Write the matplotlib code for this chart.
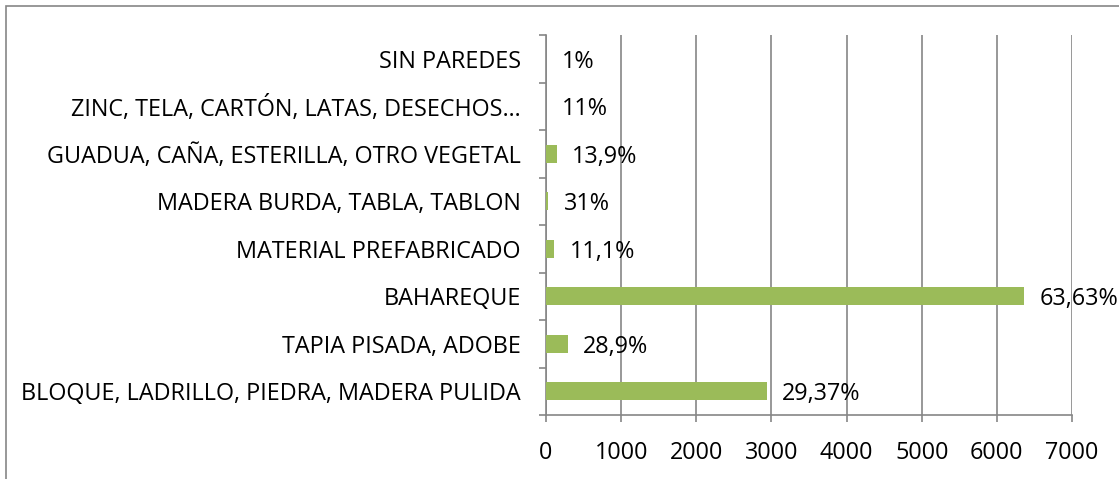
import matplotlib
matplotlib.use("Agg")
import matplotlib.pyplot as plt
from matplotlib.patches import Rectangle

plt.rcParams["font.family"] = ["Open Sans", "DejaVu Sans"]

# bottom to top
categories = [
    "BLOQUE, LADRILLO, PIEDRA, MADERA PULIDA",
    "TAPIA PISADA, ADOBE",
    "BAHAREQUE",
    "MATERIAL PREFABRICADO",
    "MADERA BURDA, TABLA, TABLON",
    "GUADUA, CAÑA, ESTERILLA, OTRO VEGETAL",
    "ZINC, TELA, CARTÓN, LATAS, DESECHOS…",
    "SIN PAREDES",
]
values = [2940, 290, 6365, 110, 30, 145, 4, 2]
pct_labels = ["29,37%", "28,9%", "63,63%", "11,1%", "31%", "13,9%", "11%", "1%"]
x_ticks = [0, 1000, 2000, 3000, 4000, 5000, 6000, 7000]

GREEN = "#9BBB59"
GRAY = "#868686"
FS = 16.8

fig = plt.figure(figsize=(11.19, 4.79), dpi=100)
ax = fig.add_axes([546 / 1119, 1 - 415 / 479, (1072 - 546) / 1119, (415 - 35) / 479])

ypos = list(range(len(categories)))
ax.barh(ypos, values, height=0.38, color=GREEN, zorder=3)

for y, v, lab in zip(ypos, values, pct_labels):
    ax.annotate(lab, (v, y), xytext=(11, -2), textcoords="offset points",
                va="center", ha="left", fontsize=FS, color="black")

ax.set_xlim(0, 7000)
ax.set_ylim(-0.5, len(categories) - 0.5)
ax.set_xticks(x_ticks)
ax.set_xticklabels([str(t) for t in x_ticks], fontsize=FS)
ax.set_yticks(ypos)
ax.set_yticklabels(categories, fontsize=FS)
ax.set_yticks([i - 0.5 for i in range(len(categories) + 1)], minor=True)

ax.tick_params(axis="y", which="major", length=0, pad=18)
ax.tick_params(axis="y", which="minor", length=5, color=GRAY, width=1.2)
ax.tick_params(axis="x", length=5, color=GRAY, width=1.2, pad=14)

ax.grid(axis="x", color=GRAY, linewidth=1.2, zorder=0)
for side in ["top", "right"]:
    ax.spines[side].set_visible(False)
for side in ["left", "bottom"]:
    ax.spines[side].set_color(GRAY)
    ax.spines[side].set_linewidth(1.2)

# outer chart frame (only top and left edges visible)
fig.add_artist(Rectangle((6 / 1119, -0.5), 2, 1.5 - 6 / 479, transform=fig.transFigure,
                         fill=False, edgecolor=GRAY, linewidth=1.2))

fig.savefig("out.png", dpi=100)
